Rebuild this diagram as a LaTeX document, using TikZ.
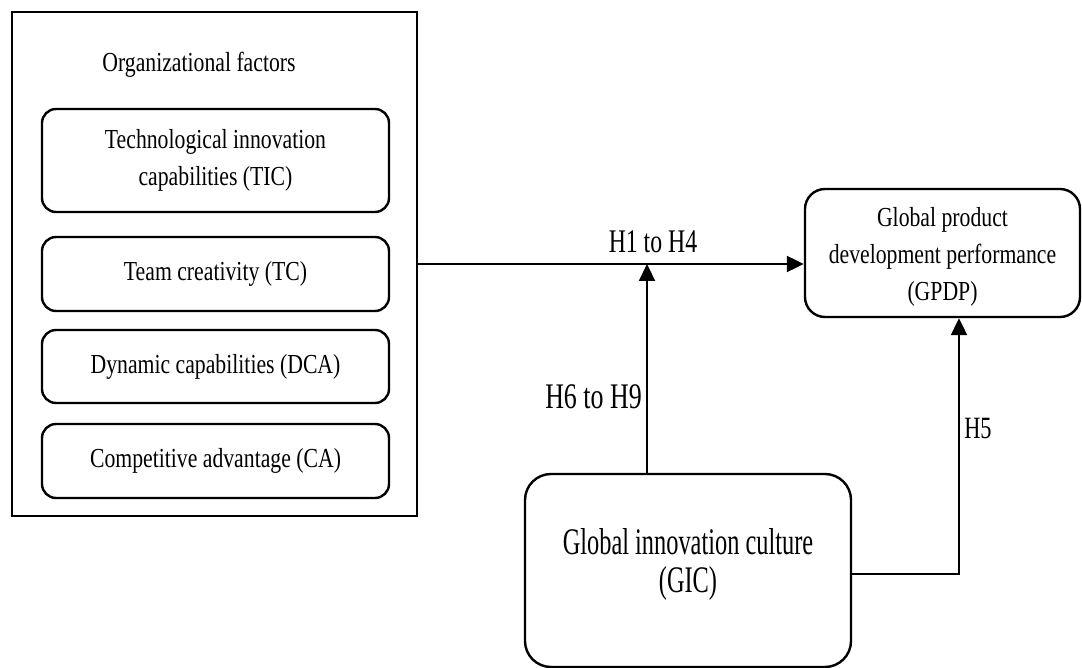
\documentclass[tikz,border=0pt]{standalone}
\usepackage{fontspec}
\setmainfont{Liberation Serif}[FakeStretch=0.79]
\newfontfamily\hfont{Liberation Serif}[FakeStretch=0.72]
\newfontfamily\gicfont{Liberation Serif}[FakeStretch=0.65]
\usetikzlibrary{arrows.meta}
\def\boxtext{\fontsize{27.5pt}{37pt}\selectfont}

\begin{document}
\begin{tikzpicture}[x=1pt, y=-1pt,
	factor/.style={draw, line width=2.4pt, rounded corners=14pt, minimum width=347pt, align=center, font=\boxtext},
	arr/.style={line width=2.2pt, -{Triangle[length=17pt, width=16pt]}}]
		%%%%% START %%%%%
		\useasboundingbox (0, 0) rectangle (1082, 668);
		
		\node[draw, line width=2.6pt, minimum width=405pt, minimum height=504pt] (org) at (214.5, 264) {};
		\node[anchor=base, font=\boxtext] (orgtitle) at (199, 72) {Organizational factors};
		
		\node[factor, minimum height=103pt] (tic) at (215.5, 160.5) {Technological innovation\\capabilities (TIC)};
		\node[factor, minimum height=74pt] (tc) at (215.5, 274) {Team creativity (TC)};
		\node[factor, minimum height=73pt] (dca) at (215.5, 366.5) {Dynamic capabilities (DCA)};
		\node[factor, minimum height=74pt] (ca) at (215.5, 461) {Competitive advantage (CA)};
		
		\node[draw, line width=2.4pt, rounded corners=20pt, minimum width=275pt, minimum height=128pt] (gpdp) at (942.5, 253) {};
		\node[align=center, font=\boxtext] (gpdptext) at (942.5, 257) {Global product\\development performance\\(GPDP)};
		
		\node[draw, line width=2.4pt, rounded corners=26pt, minimum width=326pt, minimum height=193pt] (gic) at (688, 570.5) {};
		\node[align=center, font={\gicfont\fontsize{37.5pt}{38pt}\selectfont}] (gictext) at (688, 564) {Global innovation culture\\(GIC)};
		
		\draw[arr] (org.east) -- (org.east -| gpdp.west);
		\draw[arr] ([xshift=-41pt]gic.north) coordinate (gicup) -- (gicup |- org.east);
		\draw[arr] ([yshift=-3.5pt]gic.east) -| ([xshift=16.5pt]gpdp.south);
		
		\node[anchor=base, font={\hfont\fontsize{33pt}{36pt}\selectfont}] (h1) at (653, 253) {H1 to H4};
		\node[anchor=base, font={\hfont\fontsize{36pt}{40pt}\selectfont}] (h6) at (593.5, 408) {H6 to H9};
		\node[anchor=base, font={\hfont\fontsize{31pt}{34pt}\selectfont}] (h5) at (978, 438) {H5};
		%%%%% END %%%%%
\end{tikzpicture}
\end{document}
